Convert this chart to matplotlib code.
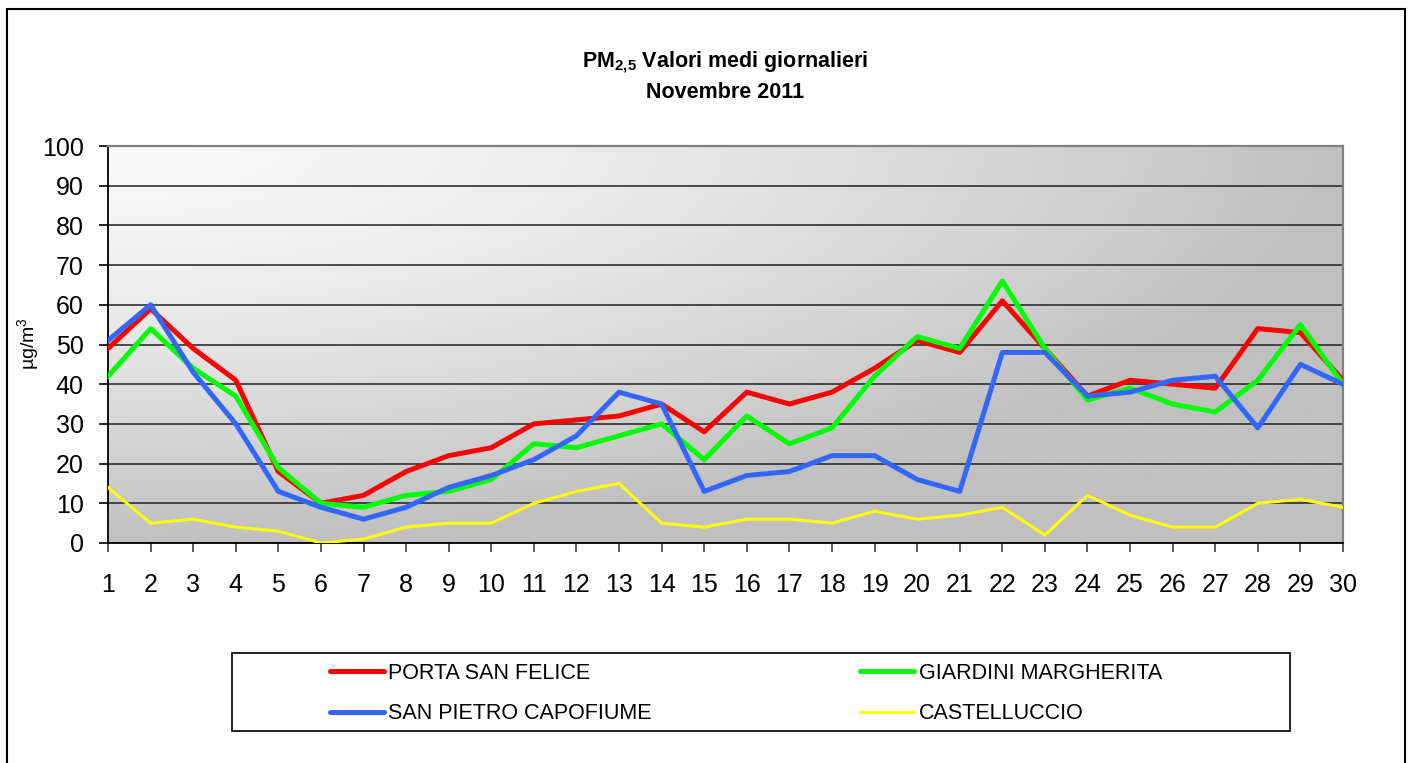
import matplotlib.pyplot as plt
import numpy as np
from matplotlib.patches import Rectangle

plt.rcParams['font.family'] = 'Liberation Sans'
plt.rcParams['mathtext.fontset'] = 'custom'
plt.rcParams['mathtext.rm'] = 'Liberation Sans'
plt.rcParams['mathtext.bf'] = 'Liberation Sans:bold'

# Data
days = list(range(1, 31))
porta_san_felice = [49, 59, 49, 41, 18, 10, 12, 18, 22, 24, 30, 31, 32, 35, 28,
                    38, 35, 38, 44, 51, 48, 61, 49, 37, 41, 40, 39, 54, 53, 41]
giardini_margherita = [42, 54, 44, 37, 19, 10, 9, 12, 13, 16, 25, 24, 27, 30, 21,
                       32, 25, 29, 42, 52, 49, 66, 49, 36, 39, 35, 33, 41, 55, 40]
san_pietro_capofiume = [51, 60, 43, 30, 13, 9, 6, 9, 14, 17, 21, 27, 38, 35, 13,
                        17, 18, 22, 22, 16, 13, 48, 48, 37, 38, 41, 42, 29, 45, 40]
castelluccio = [14, 5, 6, 4, 3, 0, 1, 4, 5, 5, 10, 13, 15, 5, 4,
                6, 6, 5, 8, 6, 7, 9, 2, 12, 7, 4, 4, 10, 11, 9]

W, H = 1410, 763
fig = plt.figure(figsize=(W / 100, H / 100), dpi=100)
ax = fig.add_axes([108 / W, 1 - 543 / H, (1343 - 108) / W, (543 - 146) / H])

# gradient background, light in the top-left corner
gx, gy = np.meshgrid(np.linspace(0, 1, 300), np.linspace(0, 1, 200))
d = np.clip(np.sqrt(gx ** 2 + gy ** 2), 0, 1)
shade = (192 + (249 - 192) * (1 - d ** 1.5)) / 255
ax.imshow(np.dstack([shade] * 3), extent=[1, 30, 0, 100], origin='upper',
          aspect='auto', zorder=0)

l1, = ax.plot(days, porta_san_felice, color='#ff0000', lw=3.6, label='PORTA SAN FELICE', zorder=3)
l2, = ax.plot(days, giardini_margherita, color='#00ff00', lw=3.6, label='GIARDINI MARGHERITA', zorder=3)
l3, = ax.plot(days, san_pietro_capofiume, color='#3366ff', lw=3.6, label='SAN PIETRO CAPOFIUME', zorder=3)
l4, = ax.plot(days, castelluccio, color='#ffff00', lw=2.2, label='CASTELLUCCIO', zorder=3)

ax.set_xlim(1, 30)
ax.set_ylim(0, 100)
ax.set_xticks(days)
ax.set_yticks(np.arange(0, 101, 10))
ax.tick_params(axis='both', direction='out', length=6.5, width=1.2, labelsize=18)
ax.tick_params(axis='x', pad=15, color='#404040')
ax.tick_params(axis='y', pad=11)

ax.set_axisbelow(True)
ax.grid(axis='y', color='#202020', lw=1.1)
for s in ['left', 'bottom']:
    ax.spines[s].set_color('black')
    ax.spines[s].set_linewidth(1.3)
for s in ['top', 'right']:
    ax.spines[s].set_color('#808080')
    ax.spines[s].set_linewidth(1.6)

fig.text(29 / W, 1 - 344 / H, 'µg/m$^3$', rotation=90, ha='center', va='center', fontsize=14)

# title
fig.text(725 / W, 1 - 62 / H, 'PM$_{\\mathbf{2{,}5}}$ Valori medi giornalieri',
         ha='center', va='center', fontsize=15.5, weight='bold')
fig.text(725 / W, 1 - 92 / H, 'Novembre 2011', ha='center', va='center',
         fontsize=15.5, weight='bold')

# legend with its own box (column-major order -> rows as in the reference)
leg = ax.legend([l1, l3, l2, l4], [l.get_label() for l in (l1, l3, l2, l4)],
                loc='upper left', bbox_to_anchor=(330 / W, 1 - 663 / H),
                bbox_transform=fig.transFigure, ncol=2, frameon=False,
                fontsize=15.5, handlelength=2.5, handletextpad=0.2,
                columnspacing=9.7, labelspacing=0.9, borderpad=0, borderaxespad=0)
for line in leg.get_lines():
    line.set_solid_capstyle('round')

fig.patches.append(Rectangle((232 / W, 1 - 731 / H), (1290 - 232) / W, 78 / H,
                             transform=fig.transFigure, fill=False, ec='black', lw=1.2))
fig.patches.append(Rectangle((7 / W, -0.02), (1405 - 7) / W, 1.02 - 9 / H,
                             transform=fig.transFigure, fill=False, ec='black', lw=1.5))

fig.savefig('out.png', dpi=100)
